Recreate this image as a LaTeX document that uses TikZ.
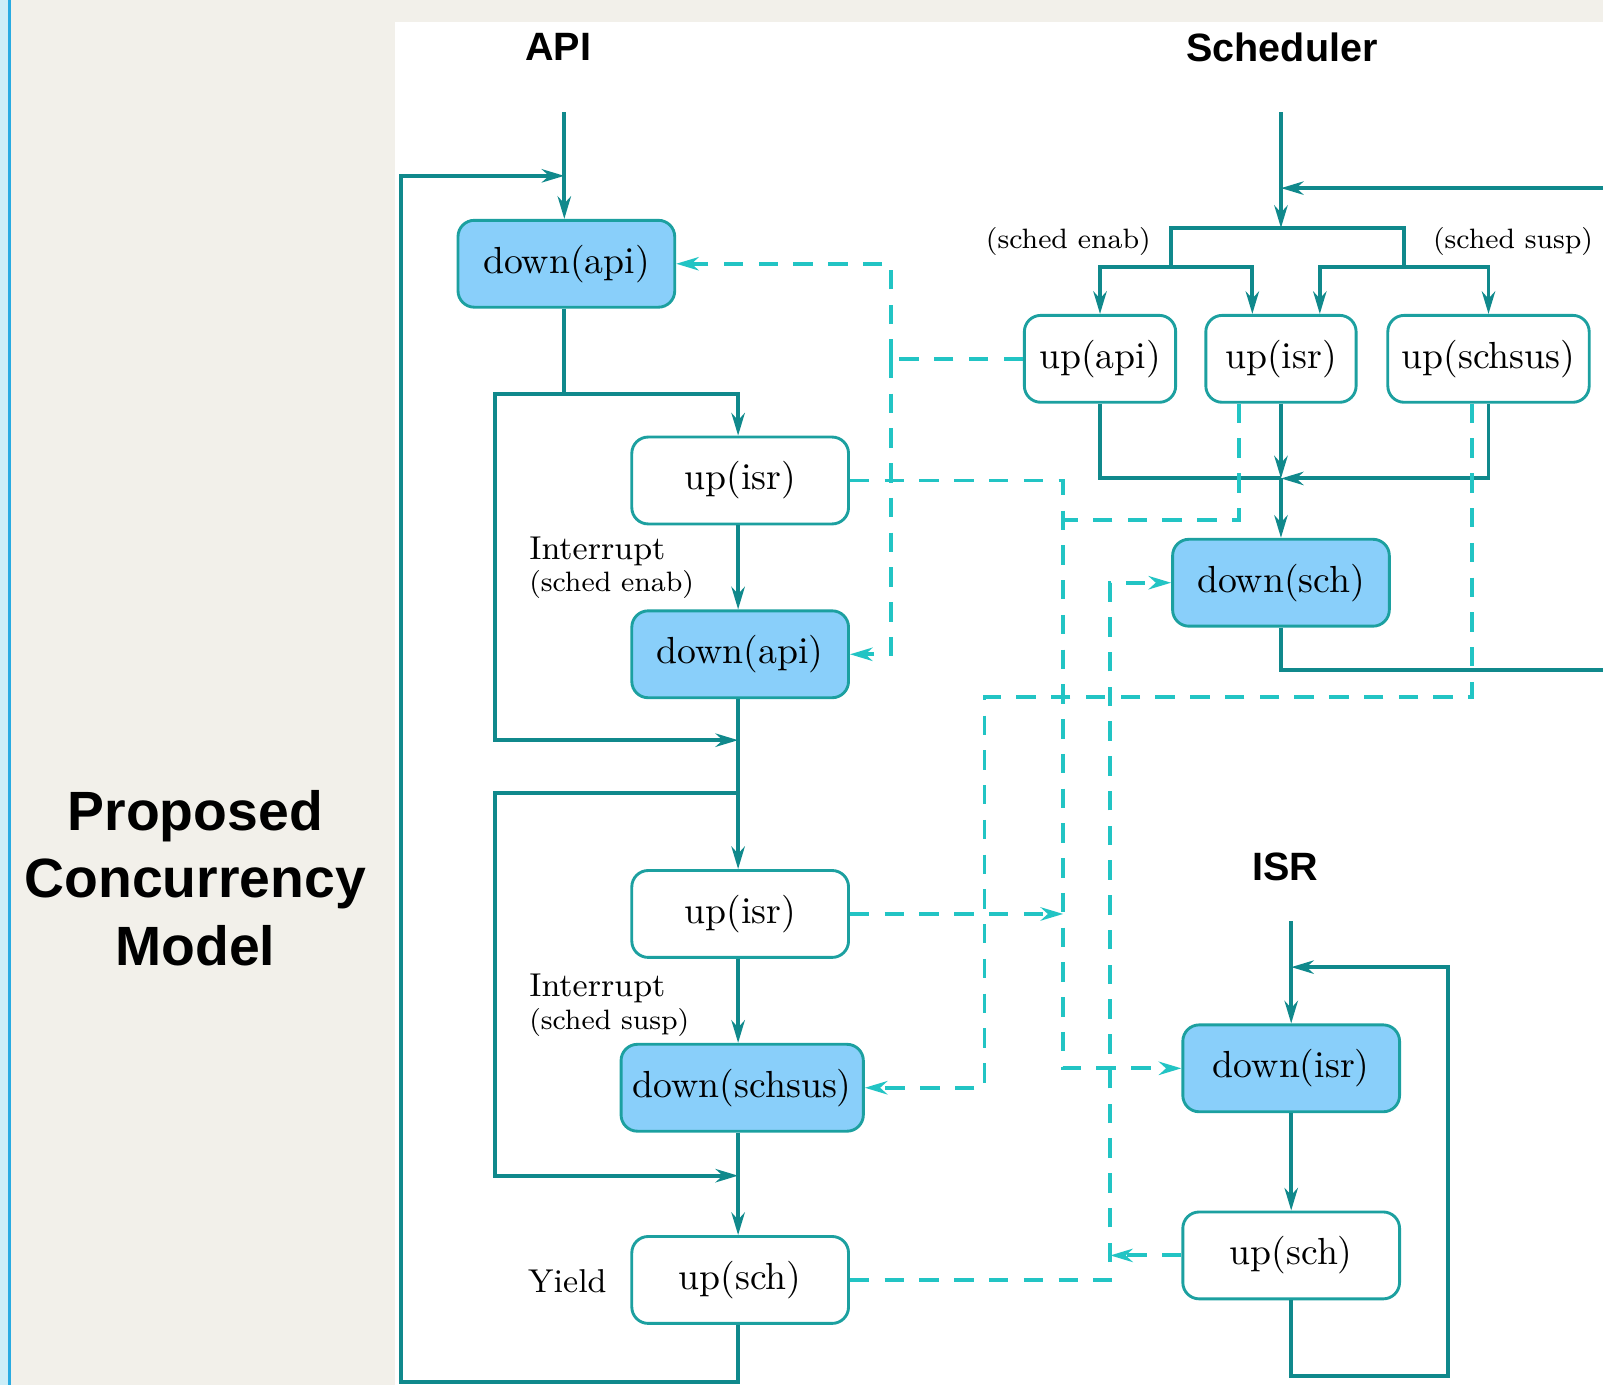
\documentclass[tikz,border=0pt]{standalone}
\usepackage{fontspec}
\usepackage{xcolor}
\usepackage{tikz}
\usetikzlibrary{arrows.meta, calc, positioning}

\newfontfamily\headfont{Liberation Sans}

\definecolor{panelgray}{RGB}{242,240,234}
\definecolor{edgeblue}{RGB}{41,171,226}
\definecolor{edgepale}{RGB}{204,238,248}
\definecolor{flowteal}{RGB}{16,137,140}
\definecolor{boxteal}{RGB}{28,160,160}
\definecolor{sigcyan}{RGB}{34,196,196}
\definecolor{semfill}{RGB}{137,207,250}

\begin{document}
\begin{tikzpicture}[x=0.1mm, y=-0.1mm,
		flow/.style = {draw=flowteal, line width=1.1pt, -{Stealth[length=2.2mm,width=1.3mm,inset=0.7mm]}},
		link/.style = {draw=flowteal, line width=1.1pt},
		sig/.style = {draw=sigcyan, line width=1.1pt, dash pattern=on 1.9mm off 1.5mm, -{Stealth[length=2.2mm,width=1.3mm,inset=0.7mm]}},
		siglink/.style = {draw=sigcyan, line width=1.1pt, dash pattern=on 1.9mm off 1.5mm}]
		\tikzset{opnode/.style={draw=boxteal, line width=0.8pt, rounded corners=1.6mm, minimum width=21.2mm, minimum height=8.5mm, inner sep=0pt, font=\fontsize{10.5}{12}\selectfont}}
		\tikzset{semnode/.style={opnode, fill=semfill}, waitnode/.style={opnode, fill=white}}
		\tikzset{hdr/.style={font=\headfont\bfseries\fontsize{11}{13}\selectfont}, lbl/.style={font=\fontsize{9.2}{11}\selectfont, inner sep=0pt}, sml/.style={font=\fontsize{7.8}{9}\selectfont, inner sep=0pt}}

		\useasboundingbox (0,0) rectangle (1568,1355);
		\fill[panelgray] (0,0) rectangle (1568,1355);
		\fill[edgepale] (0,0) rectangle (8,1355);
		\fill[edgeblue] (8,0) rectangle (11,1355);
		\fill[white] (386,22) rectangle (1568,1355);

		\node[font=\headfont\bfseries\fontsize{15.4}{18.8}\selectfont, align=center] (model) at (191,859) {Proposed\\Concurrency\\Model};

		\node[hdr] (apihead) at (546,46) {API};
		\node[semnode] (dapiA) at (554,258) {down(api)};
		\node[waitnode] (uisrA) at (724,470) {up(isr)};
		\node[semnode] (dapiB) at (724,640) {down(api)};
		\node[waitnode] (uisrB) at (724,894) {up(isr)};
		\node[semnode, minimum width=23.7mm] (dschsus) at (726,1064) {down(schsus)};
		\node[waitnode] (uschA) at (724,1252) {up(sch)};
		\node[lbl, anchor=west] (irqA) at (517,539) {Interrupt};
		\node[sml, anchor=west] (irqAwhy) at (517,572) {(sched enab)};
		\node[lbl, anchor=west] (irqB) at (517,967) {Interrupt};
		\node[sml, anchor=west] (irqBwhy) at (517,1000) {(sched susp)};
		\node[lbl] (yield) at (555,1253) {Yield};

		\coordinate (apiin) at (552,110);
		\coordinate (apiloop) at (552,172);
		\coordinate (splitA) at (552,385);
		\coordinate (mergeA) at (722,724);
		\coordinate (splitB) at (722,776);
		\coordinate (mergeB) at (722,1150);

		\draw[flow] (apiin) -- (apiin |- dapiA.north);
		\draw[link] (splitA |- dapiA.south) -- (splitA);
		\draw[flow] (splitA) -| (mergeA |- uisrA.north);
		\draw[flow] (splitA) -| (484,724) -- (mergeA);
		\draw[flow] (mergeA |- uisrA.south) -- (mergeA |- dapiB.north);
		\draw[flow] (mergeA |- dapiB.south) -- (mergeA |- uisrB.north);
		\draw[flow] (splitB) -| (484,1150) -- (mergeB);
		\draw[flow] (mergeA |- uisrB.south) -- (mergeA |- dschsus.north);
		\draw[flow] (mergeA |- dschsus.south) -- (mergeA |- uschA.north);
		\draw[flow] (mergeA |- uschA.south) -- (722,1352) -| (392,172) -- (apiloop);

		\node[hdr] (schhead) at (1254,46) {Scheduler};
		\node[waitnode, minimum width=14.8mm] (uapiS) at (1076,351) {up(api)};
		\node[waitnode, minimum width=14.7mm] (uisrS) at (1253,351) {up(isr)};
		\node[waitnode, minimum width=19.7mm] (uschsusS) at (1456,351) {up(schsus)};
		\node[semnode] (dsch) at (1253,570) {down(sch)};
		\node[sml] (enab) at (1045,236) {(sched enab)};
		\node[sml] (susp) at (1480,236) {(sched susp)};

		\coordinate (schin) at (1253,110);
		\coordinate (schret) at (1253,184);
		\coordinate (schbar) at (1253,223);
		\coordinate (enabbar) at (1145,261);
		\coordinate (suspbar) at (1373,261);
		\coordinate (schmerge) at (1253,468);

		\draw[flow] (schin) -- (schbar);
		\draw[link] (enabbar) |- (schbar) -| (suspbar);
		\draw[flow] (enabbar) -| (uapiS);
		\draw[flow] (enabbar) -| ($(uisrS.north)+(-28,0)$);
		\draw[flow] (suspbar) -| ($(uisrS.north)+(38,0)$);
		\draw[flow] (suspbar) -| (uschsusS);
		\draw[link] (uapiS) |- (schmerge);
		\draw[flow] (uisrS) -- (schmerge);
		\draw[flow] (uschsusS) |- (schmerge);
		\draw[flow] (schmerge) -- (dsch);
		\draw[link] (dsch) |- (1568,655);
		\draw[flow] (1568,184) -- (schret);

		\node[hdr] (isrhead) at (1257,848) {ISR};
		\node[semnode] (disr) at (1263,1045) {down(isr)};
		\node[waitnode] (uschI) at (1263,1228) {up(sch)};

		\coordinate (isrin) at (1263,901);
		\coordinate (isrret) at (1263,946);

		\draw[flow] (isrin) -- (disr);
		\draw[flow] (disr) -- (uschI);
		\draw[flow] (uschI) -- ++(0,118) -| (1416,946) -- (isrret);

		\coordinate (apibus) at (872,351);
		\coordinate (isrtap) at (1040,894);
		\coordinate (schtap) at (1086,1228);

		\draw[siglink] (uapiS) -- (apibus);
		\draw[sig] (apibus) |- (dapiA);
		\draw[sig] (apibus) |- (dapiB);
		\draw[sig] (uisrA) -| (1040,1045) -- (disr);
		\draw[siglink] ($(uisrS.south)+(-41,0)$) |- (1040,509);
		\draw[sig] (uisrB) -- (isrtap);
		\draw[sig] ($(uschsusS.south)+(-16,0)$) |- (963,682) |- (dschsus);
		\draw[sig] (uschA) -| (1086,570) -- (dsch);
		\draw[sig] (uschI) -- (schtap);

	\end{tikzpicture}
\end{document}
